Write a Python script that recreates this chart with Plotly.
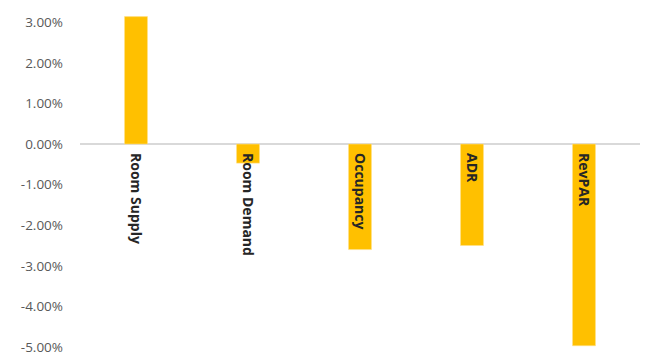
import plotly.graph_objects as go

categories = ["Room Supply", "Room Demand", "Occupancy", "ADR", "RevPAR"]
values = [0.0314, -0.0047, -0.0260, -0.0250, -0.0497]
y_tick_vals = [0.03, 0.02, 0.01, 0.0, -0.01, -0.02, -0.03, -0.04, -0.05]
y_tick_text = ["3.00%", "2.00%", "1.00%", "0.00%", "-1.00%", "-2.00%", "-3.00%", "-4.00%", "-5.00%"]

y_min, y_max = -0.0505, 0.035
zero_pos = (0 - y_min) / (y_max - y_min)

fig = go.Figure()
fig.add_trace(go.Bar(
    x=categories, y=values,
    marker=dict(color="#FFC000", line=dict(color="#FFE08A", width=0.6)),
    width=0.205,
))

fig.update_layout(
    width=648, height=356,
    margin=dict(l=80, r=8, t=2, b=7),
    paper_bgcolor="white", plot_bgcolor="white",
    showlegend=False,
    font=dict(family="Open Sans, Lato, sans-serif"),
    xaxis=dict(
        anchor="free", position=zero_pos, automargin=False,
        showline=False, showgrid=False, ticks="",
        tickangle=90, ticklabelstandoff=8,
        tickfont=dict(size=14, color="#262626", weight="bold"),
    ),
    yaxis=dict(
        range=[y_min, y_max], automargin=False,
        tickvals=y_tick_vals, ticktext=y_tick_text,
        showgrid=False, showline=False, ticks="",
        zeroline=True, zerolinecolor="#D9D9D9", zerolinewidth=1.5,
        ticklabelstandoff=16, ticklabeloverflow="allow",
        tickfont=dict(size=13.5, color="#595959"),
    ),
)

fig.write_html("out.html")
